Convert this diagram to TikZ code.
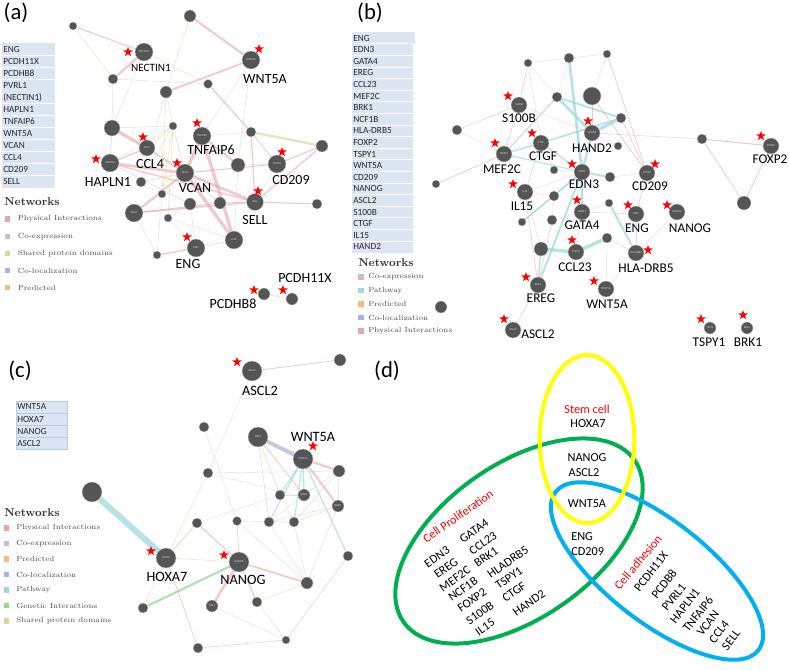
\documentclass[tikz,border=0pt]{standalone}
\usepackage{fontspec}
\newfontfamily\carl{Carlito}
\usetikzlibrary{shapes.geometric,backgrounds}
\definecolor{ngray}{HTML}{555555}
\definecolor{lbox}{HTML}{DCE6F2}
\definecolor{lboxd}{HTML}{B8CCE4}
\definecolor{cPI}{HTML}{E9A5A5}
\definecolor{cCE}{HTML}{D3B5DC}
\definecolor{cSP}{HTML}{DCD6A0}
\definecolor{cCL}{HTML}{A4B4E2}
\definecolor{cPR}{HTML}{F6BB80}
\definecolor{cPW}{HTML}{9DD9DD}
\definecolor{cGI}{HTML}{92DC92}
\definecolor{vyellow}{HTML}{FFFF00}
\definecolor{vgreen}{HTML}{00B050}
\definecolor{vblue}{HTML}{00B0F0}
\begin{document}
\begin{tikzpicture}[x=0.75pt,y=-0.75pt,
 gn/.style={circle, fill=ngray, draw=white!70!ngray, line width=0.25pt, inner sep=0pt, minimum size={#1*1.5pt}, font=\carl\fontsize{2.2}{2.4}\selectfont, text=white!85!black},
 rstar/.style={star, star points=5, star point ratio=2.4, fill=red, draw=none, inner sep=0pt, minimum size=7.5pt},
 big/.style={font=\carl\fontsize{10.5}{12}\selectfont, inner sep=0pt},
 med/.style={font=\carl\fontsize{8.4}{10}\selectfont, inner sep=0pt},
 blab/.style={font=\carl\fontsize{10}{12}\selectfont, inner sep=0pt},
 clab/.style={font=\carl\fontsize{10.7}{12}\selectfont, inner sep=0pt},
 plab/.style={font=\carl\fontsize{17}{20}\selectfont, inner sep=0pt},
 lrow/.style={font=\carl\fontsize{7}{8}\selectfont, inner sep=0pt, anchor=west, text=black!85},
 nethead/.style={font=\bfseries\fontsize{8.5}{10}\selectfont, inner sep=0pt, anchor=west, text=black!80},
 lsq/.style={rectangle, inner sep=0pt, minimum size=3.8pt},
 ltxt/.style={font=\fontsize{5.6}{6.5}\selectfont, text=black!70, inner sep=0pt, anchor=west},
 venn/.style={font=\carl\fontsize{9.2}{11}\selectfont, inner sep=0pt},
 vred/.style={font=\carl\fontsize{9.2}{11}\selectfont, inner sep=0pt, text=red},
 ePI/.style={draw=cPI, draw opacity=0.6, line width=#1pt}, ePI/.default=0.4,
 eCE/.style={draw=cCE, draw opacity=0.5, line width=#1pt}, eCE/.default=0.35,
 eSP/.style={draw=cSP, draw opacity=0.65, line width=#1pt}, eSP/.default=0.4,
 eCL/.style={draw=cCL, draw opacity=0.7, line width=#1pt}, eCL/.default=0.4,
 ePW/.style={draw=cPW, draw opacity=0.75, line width=#1pt}, ePW/.default=0.4,
 eGI/.style={draw=cGI, draw opacity=0.8, line width=#1pt}, eGI/.default=0.4,
]
\useasboundingbox (0,0) rectangle (789,669);

% ---------- panel letters
\node[plab] (pa) at (16,13) {(a)};
\node[plab] (pb) at (370,13) {(b)};
\node[plab] (pc) at (20,371) {(c)};
\node[plab] (pd) at (387,371) {(d)};

% ---------- gene lists
\fill[lbox] (2,43) rectangle (55,188);
\foreach \i in {1,2,3,5,6,7,8,9,10,11} \draw[white, line width=0.5pt] (2,{43+12.06*\i}) -- (55,{43+12.06*\i});
\foreach \g [count=\i from 0] in {ENG,PCDH11X,PCDHB8,PVRL1,{(NECTIN1)},HAPLN1,TNFAIP6,WNT5A,VCAN,CCL4,CD209,SELL}
  \node[lrow] (la\i) at (3,{49.3+12.06*\i}) {\g};

\fill[lbox] (352,32) rectangle (413,253);
\fill[lbox] (352,32) rectangle (415,44);
\foreach \i in {1,...,18} \draw[white, line width=0.5pt] (352,{32.2+11.6*\i}) -- (413,{32.2+11.6*\i});
\foreach \g [count=\i from 0] in {ENG,EDN3,GATA4,EREG,CCL23,MEF2C,BRK1,NCF1B,HLA-DRB5,FOXP2,TSPY1,WNT5A,CD209,NANOG,ASCL2,S100B,CTGF,IL15,HAND2}
  \node[lrow] (lb\i) at (353,{38+11.6*\i}) {\g};

\filldraw[fill=lbox, draw=lboxd, line width=0.5pt] (16,401) rectangle (67,449);
\foreach \i in {1,2,3} \draw[lboxd, line width=0.5pt] (16,{401+12.1*\i}) -- (67,{401+12.1*\i});
\foreach \g [count=\i from 0] in {WNT5A,HOXA7,NANOG,ASCL2}
  \node[lrow] (lc\i) at (17,{407+12.3*\i}) {\g};

% ---------- legends
\node[nethead] (na) at (4,202) {Networks};
\foreach \c/\t [count=\i from 0] in {cPI/Physical Interactions,cCE/Co-expression,cSP/Shared protein domains,cCL/Co-localization,cPR/Predicted}{
  \node[lsq, fill=\c] (sqa\i) at (7.5,{219+17.2*\i}) {};
  \node[ltxt] (ta\i) at (17.5,{219+17.2*\i}) {\t};}

\node[nethead] (nb) at (358,263) {Networks};
\foreach \c/\t [count=\i from 0] in {cCE/Co-expression,cPW/Pathway,cPR/Predicted,cCL/Co-localization,cPI/Physical Interactions}{
  \node[lsq, fill=\c] (sqb\i) at (361,{277+13.5*\i}) {};
  \node[ltxt] (tb\i) at (368,{277+13.5*\i}) {\t};}

\node[nethead] (nc) at (4,513) {Networks};
\foreach \c/\t [count=\i from 0] in {cPI/Physical Interactions,cCE/Co-expression,cPR/Predicted,cCL/Co-localization,cPW/Pathway,cGI/Genetic Interactions,cSP/Shared protein domains}{
  \node[lsq, fill=\c] (sqc\i) at (6.5,{528+15.5*\i}) {};
  \node[ltxt] (tc\i) at (16,{528+15.5*\i}) {\t};}

% ================= PANEL (a) =================
\node[gn=4] (a1) at (73,26) {};
\node[gn=6] (a2) at (190,16) {};
\node[gn=9] (aNEC) at (144,52) {NECTIN1};
\node[gn=9] (aWNT) at (251,60) {WNT5A};
\node[gn=5] (a3) at (113,79) {};
\node[gn=6] (a4) at (166,92) {};
\node[gn=4.5] (a5) at (208,84) {};
\node[gn=8] (a6) at (112,128) {};
\node[gn=4] (a7) at (173,126) {};
\node[gn=9] (aTNF) at (202,136) {TNFAIP6};
\node[gn=5] (a8) at (251,132) {};
\node[gn=6] (a9) at (322,146) {};
\node[gn=8] (aCCL) at (147,148) {CCL4};
\node[gn=9] (aHAP) at (110,163) {HAPLN1};
\node[gn=9] (aVCAN) at (185,173) {VCAN};
\node[gn=7] (a10) at (238,165) {};
\node[gn=9] (aCD) at (277,164) {CD209};
\node[gn=5] (a11) at (141,182) {};
\node[gn=4] (a12) at (162,194) {};
\node[gn=6] (a13) at (190,204) {};
\node[gn=6] (a14) at (220,203) {};
\node[gn=8.5] (aSELL) at (255,202) {SELL};
\node[gn=5] (a15) at (317,204) {};
\node[gn=9] (a16) at (134,213) {CD44};
\node[gn=4] (a17) at (168,218) {};
\node[gn=9] (a18) at (234,240) {SELP};
\node[gn=9] (aENG) at (196,248) {ENG};
\node[gn=4] (a19) at (157,255) {};
\node[gn=6] (aPB8) at (264,294) {};
\node[gn=6] (aP11) at (292,299) {};

\node[rstar] (sa1) at (128,52) {};
\node[rstar] (sa2) at (259,49) {};
\node[rstar] (sa3) at (197,123) {};
\node[rstar] (sa4) at (143,137) {};
\node[rstar] (sa5) at (96,159) {};
\node[rstar] (sa6) at (177,163) {};
\node[rstar] (sa7) at (282,152) {};
\node[rstar] (sa8) at (258,191) {};
\node[rstar] (sa9) at (187,237) {};
\node[rstar] (sa10) at (254,290) {};
\node[rstar] (sa11) at (283,290) {};

\node[med] (Na1) at (151,68) {NECTIN1};
\node[big] (Na2) at (265,79) {WNT5A};
\node[big] (Na3) at (211,150) {TNFAIP6};
\node[big] (Na4) at (150,164) {CCL4};
\node[big] (Na5) at (108,182) {HAPLN1};
\node[big] (Na6) at (195,188) {VCAN};
\node[big] (Na7) at (291,180) {CD209};
\node[big] (Na8) at (255,220) {SELL};
\node[big] (Na9) at (188,264) {ENG};
\node[big] (Na10) at (305,278) {PCDH11X};
\node[big] (Na11) at (233,304) {PCDHB8};

% ================= PANEL (b) =================
\node[gn=4] (b1) at (528,63) {};
\node[gn=5] (b2) at (569,58) {};
\node[gn=4] (b3) at (607,54) {};
\node[gn=8] (bS100) at (519,105) {S100B};
\node[gn=5] (b4) at (557,97) {};
\node[gn=9] (b5) at (592,96) {};
\node[gn=5] (b6) at (621,118) {};
\node[gn=8] (bHAND) at (592,133) {HAND2};
\node[gn=4] (b7) at (618,146) {};
\node[gn=5] (b8) at (457,130) {};
\node[gn=8] (bMEF) at (504,154) {MEF2C};
\node[gn=8] (bCTGF) at (541,143) {CTGF};
\node[gn=5] (b9) at (702,139) {};
\node[gn=8] (bFOX) at (771,146) {FOXP2};
\node[gn=4] (b10) at (554,170) {};
\node[gn=8] (bEDN) at (582,172) {EDN3};
\node[gn=5] (b11) at (610,177) {};
\node[gn=8] (bCD) at (647,173) {CD209};
\node[gn=4] (b12) at (436,184) {};
\node[gn=8] (bIL) at (525,192) {IL15};
\node[gn=5] (b13) at (554,196) {};
\node[gn=4] (b14) at (609,203) {};
\node[gn=8] (bGATA) at (582,212) {GATA4};
\node[gn=8] (bENG) at (636,214) {ENG};
\node[gn=8] (bNAN) at (677,212) {NANOG};
\node[gn=7] (b15) at (744,203) {};
\node[gn=4] (b16) at (522,222) {};
\node[gn=5] (b17) at (552,220) {};
\node[gn=5] (b18) at (607,238) {};
\node[gn=7] (b19) at (541,249) {};
\node[gn=8] (bCCL) at (576,252) {CCL23};
\node[gn=8] (bHLA) at (636,253) {HLA-DRB5};
\node[gn=8] (bEREG) at (538,285) {EREG};
\node[gn=8] (bWNT) at (606,289) {WNT5A};
\node[gn=6] (b20) at (441,307) {};
\node[gn=8] (bASC) at (513,330) {ASCL2};
\node[gn=6] (bTSP) at (710,328) {TSPY1};
\node[gn=6] (bBRK) at (747,328) {BRK1};

\node[rstar] (sb1) at (508,96) {};
\node[rstar] (sb2) at (588,121) {};
\node[rstar] (sb3) at (495,143) {};
\node[rstar] (sb4) at (532,133) {};
\node[rstar] (sb5) at (761,136) {};
\node[rstar] (sb6) at (572,164) {};
\node[rstar] (sb7) at (655,164) {};
\node[rstar] (sb8) at (513,184) {};
\node[rstar] (sb9) at (577,200) {};
\node[rstar] (sb10) at (628,205) {};
\node[rstar] (sb11) at (667,205) {};
\node[rstar] (sb12) at (572,240) {};
\node[rstar] (sb13) at (648,250) {};
\node[rstar] (sb14) at (526,277) {};
\node[rstar] (sb15) at (594,281) {};
\node[rstar] (sb16) at (504,319) {};
\node[rstar] (sb17) at (701,319) {};
\node[rstar] (sb18) at (743,315) {};

\node[blab] (Nb1) at (519,118) {S100B};
\node[blab] (Nb2) at (592,148) {HAND2};
\node[blab] (Nb3) at (502,169) {MEF2C};
\node[blab] (Nb4) at (543,156) {CTGF};
\node[blab] (Nb5) at (770,159) {FOXP2};
\node[blab] (Nb6) at (584,184) {EDN3};
\node[blab] (Nb7) at (650,186) {CD209};
\node[blab] (Nb8) at (522,206) {IL15};
\node[blab] (Nb9) at (582,225) {GATA4};
\node[blab] (Nb10) at (637,228) {ENG};
\node[blab] (Nb11) at (690,228) {NANOG};
\node[blab] (Nb12) at (575,267) {CCL23};
\node[blab] (Nb13) at (646,268) {HLA-DRB5};
\node[blab] (Nb14) at (541,298) {EREG};
\node[blab] (Nb15) at (607,304) {WNT5A};
\node[blab] (Nb16) at (538,334) {ASCL2};
\node[blab] (Nb17) at (709,342) {TSPY1};
\node[blab] (Nb18) at (748,342) {BRK1};

% ================= PANEL (c) =================
\node[gn=10] (cASC) at (252,371) {ASCL2};
\node[gn=6] (c1) at (340,360) {};
\node[gn=5] (c2) at (204,427) {};
\node[gn=10] (c3) at (258,437) {FZD5};
\node[gn=10] (cWNT) at (303,459) {WNT5A};
\node[gn=6] (c4) at (339,471) {};
\node[gn=5] (c5) at (208,473) {};
\node[gn=10] (cTSM) at (92,492) {};
\node[gn=5] (c6) at (280,495) {};
\node[gn=6] (c7) at (304,495) {ROR2};
\node[gn=6] (c8) at (338,506) {ROR1};
\node[gn=5] (c9) at (197,523) {};
\node[gn=4.5] (c10) at (237,521) {};
\node[gn=5] (c11) at (269,522) {};
\node[gn=5] (c12) at (294,522) {};
\node[gn=10] (cHOX) at (166,558) {HOXA7};
\node[gn=10] (cNAN) at (239,562) {NANOG};
\node[gn=5] (c13) at (348,556) {};
\node[gn=6] (c14) at (307,583) {};
\node[gn=5] (c15) at (143,608) {};
\node[gn=6] (c16) at (212,606) {PIN1};
\node[gn=5] (c17) at (257,602) {};
\node[gn=4] (c18) at (286,640) {};
\node[gn=5] (c19) at (198,648) {};

\node[rstar] (sc1) at (237,362) {};
\node[rstar] (sc2) at (313,446) {};
\node[rstar] (sc3) at (151,551) {};
\node[rstar] (sc4) at (224,555) {};

\node[clab] (Nc1) at (260,391) {ASCL2};
\node[clab] (Nc2) at (313,437) {WNT5A};
\node[clab] (Nc3) at (167,577) {HOXA7};
\node[clab] (Nc4) at (243,580) {NANOG};

% ================= PANEL (d) =================
\node[ellipse, draw=vgreen, line width=3pt, minimum width=211.5pt, minimum height=115.5pt, rotate=35, inner sep=0pt] (vG) at (519,541) {};
\node[ellipse, draw=vblue, line width=3pt, minimum width=193pt, minimum height=76pt, rotate=-38, inner sep=0pt] (vB) at (657,571) {};
\node[ellipse, draw=vyellow, line width=3pt, minimum width=71pt, minimum height=126pt, inner sep=0pt] (vY) at (587,439) {};

\node[vred] (d1) at (587,409) {Stem cell};
\node[venn] (d2) at (588,424) {HOXA7};
\node[venn] (d3) at (587,458) {NANOG};
\node[venn] (d4) at (584,473) {ASCL2};
\node[venn] (d5) at (587,504) {WNT5A};
\node[venn, anchor=west] (d6) at (571,537) {ENG};
\node[venn, anchor=west] (d7) at (571,552) {CD209};

\node[vred, rotate=35] (d8) at (458,516) {Cell Proliferation};
\node[venn, rotate=35] (p1) at (437,557) {EDN3};
\node[venn, rotate=35] (p2) at (446,568) {EREG};
\node[venn, rotate=35] (p3) at (455,579) {MEF2C};
\node[venn, rotate=35] (p4) at (463,589) {NCF1B};
\node[venn, rotate=35] (p5) at (472,600) {FOXP2};
\node[venn, rotate=35] (p6) at (480,613) {S100B};
\node[venn, rotate=35] (p7) at (485,627) {IL15};
\node[venn, rotate=35] (q1) at (474,531) {GATA4};
\node[venn, rotate=35] (q2) at (483,543) {CCL23};
\node[venn, rotate=35] (q3) at (486,557) {BRK1};
\node[venn, rotate=35] (q4) at (508,562) {HLADRB5};
\node[venn, rotate=35] (q5) at (509,578) {TSPY1};
\node[venn, rotate=35] (q6) at (514,592) {CTGF};
\node[venn, rotate=35] (q7) at (529,603) {HAND2};

\node[vred, rotate=50] (d9) at (638,562) {Cell adhesion};
\node[venn, rotate=52] (r1) at (651,572) {PCDH11X};
\node[venn, rotate=52] (r2) at (664,584) {PCDB8};
\node[venn, rotate=52] (r3) at (674,597) {PVRL1};
\node[venn, rotate=52] (r4) at (685,606) {HAPLN1};
\node[venn, rotate=52] (r5) at (698,614) {TNFAIP6};
\node[venn, rotate=52] (r6) at (708,623) {VCAN};
\node[venn, rotate=52] (r7) at (719,632) {CCL4};
\node[venn, rotate=52] (r8) at (731,640) {SELL};

% ================= EDGES =================
\begin{pgfonlayer}{background}
% (a)
\draw[ePI=1.6] (aNEC) -- (a3);
\draw[ePI=0.8] (a1) -- (aNEC);
\draw[eSP] (a1) -- (a3);
\draw[eSP] (aNEC) -- (a5);
\draw[eCE] (aNEC) -- (a6);
\draw[ePI=1.5] (a2) -- (aWNT);
\draw[eSP] (a2) -- (a4);
\draw[ePI=1.3] (a4) -- (aWNT);
\draw[eCE] (a4) -- (a11);
\draw[eCE] (a4) -- (a7);
\draw[eSP] (a4) -- (a12);
\draw[eCE] (a3) -- (a5);
\draw[ePI=1] (a5) -- (a8);
\draw[eCE] (aWNT) -- (aTNF);
\draw[eCE] (aWNT) -- (a10);
\draw[eSP=1.8] (a8) -- (a9);
\draw[ePI=0.9] (a8) -- (aSELL);
\draw[ePI=0.6] (a8) -- (aCD);
\draw[eCE] (a8) -- (aTNF);
\draw[ePI=1] (a9) -- (aSELL);
\draw[ePI=0.8] (aSELL) -- (a15);
\draw[eCE] (aCD) -- (aSELL);
\draw[ePI=0.8] (aCD) -- (a9);
\draw[ePI=2.5] (a6) -- (aCCL);
\draw[eCE=0.5] (a6) -- (aHAP);
\draw[eSP] (a6) -- (a7);
\draw[eCE] (a3) -- (a6);
\draw[ePI=1] (aHAP) -- (aCCL);
\draw[ePI=2] (aHAP) -- (aVCAN);
\draw[ePI=1] (aHAP) -- (aSELL);
\draw[ePI=1.2] (aCCL) -- (aVCAN);
\draw[eSP=0.5] (aCCL) -- (a7);
\draw[ePI=2.5] (aTNF) -- (aVCAN);
\draw[ePI=1.5] (aTNF) -- (a10);
\draw[ePI=2.5] (aTNF) -- (a18);
\draw[ePI=2.5] (aVCAN) -- (a18);
\draw[ePI=2] (aVCAN) -- (aSELL);
\draw[ePI=0.8] (aVCAN) -- (aCD);
\draw[eCE=0.5] (aVCAN) -- (a14);
\draw[ePI=1.5] (a16) -- (aVCAN);
\draw[ePI=1] (a16) -- (aSELL);
\draw[ePI=0.8] (a16) -- (a14);
\draw[eCE=0.5] (a16) -- (a12);
\draw[eSP=0.5] (a11) -- (aVCAN);
\draw[eSP=0.5] (a7) -- (aVCAN);
\draw[eSP=0.5] (a7) -- (a12);
\draw[eSP=0.5] (a7) -- (a17);
\draw[eSP] (a7) -- (a11);
\draw[eSP] (aHAP) -- (a7);
\draw[eCE=0.5] (a13) -- (aHAP);
\draw[eCE] (a13) -- (a17);
\draw[eCE] (a17) -- (a18);
\draw[ePI=1] (aENG) -- (a19);
\draw[eCE=0.5] (aENG) -- (a18);
\draw[eCE] (aENG) -- (a17);
\draw[eCE] (aENG) -- (a13);
\draw[eCE] (a19) -- (a16);
\draw[eSP] (a19) -- (a12);
\draw[eSP=0.5] (aPB8) -- (aP11);
\draw[eCE] (a10) -- (aCD);
\draw[ePI=0.6] (a14) -- (aSELL);
\draw[eCE] (a18) -- (a10);
% (b)
\draw[eCE] (b1) -- (b2);
\draw[eCE] (b2) -- (b3);
\draw[ePI=0.5] (b1) -- (bS100);
\draw[eCE] (b1) -- (bCTGF);
\draw[eCE=0.3] (b1) -- (b4);
\draw[ePW=2] (b2) -- (bEDN);
\draw[eCE] (b2) -- (b4);
\draw[ePI=0.5] (b3) -- (bCD);
\draw[eCE=0.3] (b3) -- (b5);
\draw[ePW=2] (b4) -- (bHAND);
\draw[ePW=1.5] (b4) -- (b6);
\draw[ePW=2.5] (bHAND) -- (b6);
\draw[ePW=0.8] (b4) -- (bMEF);
\draw[ePW=1.2] (bCTGF) -- (b6);
\draw[ePW=1] (bMEF) -- (bCTGF);
\draw[ePW=0.8] (bMEF) -- (bEDN);
\draw[ePW=1] (bCTGF) -- (bEDN);
\draw[ePI=0.6] (b5) -- (bCD);
\draw[ePI] (b5) -- (bHAND);
\draw[ePI=0.5] (b6) -- (bCD);
\draw[ePI] (bS100) -- (b8);
\draw[ePI=0.5] (bS100) -- (bMEF);
\draw[eCE] (bS100) -- (bHAND);
\draw[eCE] (b8) -- (bMEF);
\draw[ePI=0.6] (b12) -- (bMEF);
\draw[eCE=0.5] (bHAND) -- (b9);
\draw[ePI=0.8] (b9) -- (bFOX);
\draw[ePI=0.6] (b9) -- (b15);
\draw[ePI=0.6] (bFOX) -- (b15);
\draw[ePW=1.5] (bEDN) -- (b11);
\draw[ePW=1.5] (bEDN) -- (bEREG);
\draw[ePW=1] (bEDN) -- (b16);
\draw[ePW=0.8] (bEDN) -- (b13);
\draw[eCE] (bEDN) -- (bIL);
\draw[ePW=0.8] (bEDN) -- (bGATA);
\draw[eCE] (bEDN) -- (b10);
\draw[ePW=1.5] (bHAND) -- (bEDN);
\draw[eCE] (b7) -- (bHAND);
\draw[ePW=1.5] (b14) -- (bHLA);
\draw[eCE] (b11) -- (bCD);
\draw[ePI=0.5] (bCD) -- (bENG);
\draw[eCE] (bCD) -- (bNAN);
\draw[eCE] (bNAN) -- (bHLA);
\draw[eCE] (bENG) -- (bHLA);
\draw[eCE=0.5] (bGATA) -- (bENG);
\draw[eCE] (bGATA) -- (b14);
\draw[eCE] (bGATA) -- (b17);
\draw[eCE=0.5] (bGATA) -- (bCCL);
\draw[eCE] (bIL) -- (b13);
\draw[eCE] (bIL) -- (b19);
\draw[ePI=0.5] (bIL) -- (bEREG);
\draw[eCE] (b13) -- (b17);
\draw[ePW=0.8] (b16) -- (b13);
\draw[ePW=2.5] (b19) -- (bCCL);
\draw[ePW=2.5] (bCCL) -- (b18);
\draw[eCE=0.5] (b18) -- (bHLA);
\draw[eCE] (b18) -- (bWNT);
\draw[ePW=1] (b19) -- (bEREG);
\draw[ePI] (b17) -- (bEREG);
\draw[ePI] (bASC) -- (bEREG);
\draw[eCE] (bCCL) -- (bWNT);
\draw[eCE] (bHLA) -- (bWNT);
\draw[eCE] (bMEF) -- (bIL);
\draw[ePI] (bCTGF) -- (bIL);
\draw[eCE] (b10) -- (bCTGF);
% (c)
\draw[ePW=4.5] (cTSM) -- (cHOX);
\draw[eGI=1.5] (cNAN) -- (c15);
\draw[eCL=3] (c3) -- (cWNT);
\draw[ePI=0.6] (cASC) -- (c1);
\draw[eCE] (cASC) -- (c5);
\draw[eCE] (c2) -- (c10);
\draw[eSP] (c5) -- (cHOX);
\draw[eCE] (c5) -- (c4);
\draw[eCE=0.3] (c5) -- (c8);
\draw[ePI=1.5] (cWNT) -- (c4);
\draw[ePI=1.5] (cWNT) -- (c8);
\draw[ePW=0.8] (cWNT) -- (c6);
\draw[ePW=1] (cWNT) -- (c7);
\draw[ePW=0.8] (cWNT) -- (c12);
\draw[ePW=0.8] (cWNT) -- (c11);
\draw[ePW=0.8] (cWNT) -- (c13);
\draw[eSP=0.5] (c3) -- (c6);
\draw[eSP=0.5] (c3) -- (c11);
\draw[ePI=0.6] (c3) -- (c7);
\draw[eSP] (c3) -- (c4);
\draw[eSP] (c4) -- (c7);
\draw[eSP] (c4) -- (c12);
\draw[eSP] (c4) -- (c8);
\draw[eSP] (c8) -- (c11);
\draw[eSP] (c8) -- (c12);
\draw[eSP] (c6) -- (c12);
\draw[eSP] (c7) -- (c11);
\draw[eSP=0.5] (c6) -- (c7);
\draw[eCE] (c8) -- (c14);
\draw[eSP=0.8] (cHOX) -- (c9);
\draw[eSP] (cHOX) -- (cNAN);
\draw[ePI=0.5] (cHOX) -- (c19);
\draw[eCE] (cHOX) -- (c15);
\draw[ePI=2] (cNAN) -- (c16);
\draw[ePI=1.2] (cNAN) -- (c14);
\draw[ePI=0.8] (cNAN) -- (c9);
\draw[ePI=0.8] (cNAN) -- (c17);
\draw[ePI=0.5] (cNAN) -- (c10);
\draw[eSP] (c10) -- (c14);
\draw[eCE] (c10) -- (c12);
\draw[eCE] (c11) -- (c14);
\draw[eCE] (c12) -- (c14);
\draw[eSP] (c14) -- (c17);
\draw[eCE] (c16) -- (c18);
\draw[eCE] (c17) -- (c18);
\draw[ePI] (c18) -- (c19);
\draw[ePI] (c13) -- (c18);
\draw[eCE=0.3] (c9) -- (c6);
\end{pgfonlayer}
\end{tikzpicture}
\end{document}
